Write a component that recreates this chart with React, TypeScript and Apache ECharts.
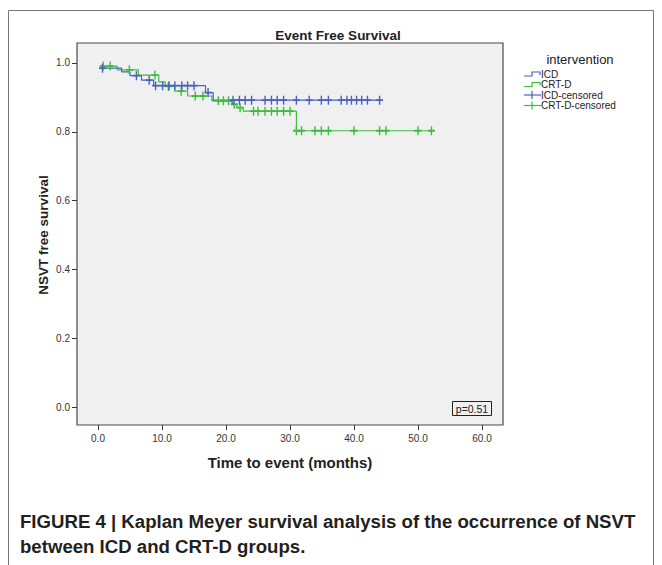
import React, { useEffect, useRef } from "react";
import * as echarts from "echarts";

// ---- data ----
const icdTimes = [0.5, 3.7, 5.0, 6.8, 8.7, 16.8, 18.0, 44.3];
const icdSurv = [0.985, 0.974, 0.963, 0.95, 0.934, 0.914, 0.892, 0.892];
const crtTimes = [0.5, 3.0, 6.3, 9.5, 10.5, 12.0, 14.0, 17.8, 20.9, 21.7, 22.7, 31.0, 52.3];
const crtSurv = [0.991, 0.98, 0.965, 0.945, 0.932, 0.918, 0.904, 0.89, 0.88, 0.87, 0.86, 0.803, 0.803];
const icdCensored = [0.7, 6.0, 8.0, 9.0, 10.1, 11.1, 12.0, 13.1, 14.0, 15.0, 17.2, 21.1, 22.1, 23.0, 24.0, 26.1, 27.1, 28.0, 29.0, 31.0, 33.0, 34.9, 36.0, 38.0, 38.9, 39.6, 40.4, 41.2, 42.1, 44.0];
const crtCensored = [0.8, 1.9, 4.9, 8.9, 11.0, 13.0, 15.2, 16.4, 18.8, 19.6, 20.4, 21.3, 22.2, 24.3, 25.0, 26.1, 27.1, 28.0, 29.0, 30.0, 31.0, 31.8, 33.9, 34.9, 36.0, 40.0, 44.0, 45.0, 50.0, 52.1];
const xTicks = [0, 10, 20, 30, 40, 50, 60];
const yTicks = [0, 0.2, 0.4, 0.6, 0.8, 1.0];
const legendLabels = ["ICD", "CRT-D", "ICD-censored", "CRT-D-censored"];
const pValueText = "p=0.51";

const BLUE = "#4a60c2";
const GREEN = "#3dbd3d";
const PLUS = "path://M4,0H6V4H10V6H6V10H4V6H0V4H4Z";
const FONT = "'Liberation Sans', Arial, sans-serif";

function levelAt(times: number[], surv: number[], t: number) {
  let v = surv[0];
  for (let i = 0; i < times.length; i++) if (times[i] <= t) v = surv[i];
  return v;
}

export default function App() {
  const ref = useRef<HTMLDivElement>(null);
  useEffect(() => {
    const chart = echarts.init(ref.current!, null, { renderer: "svg" });
    const legendY = [74, 84.5, 95, 105.5];
    const legendGraphics: any[] = [];
    legendLabels.forEach((lab, i) => {
      const y = legendY[i];
      const col = i % 2 === 0 ? BLUE : GREEN;
      if (i < 2) {
        legendGraphics.push({
          type: "polyline",
          shape: { points: [[524, y + 2], [532, y + 2], [532, y - 2], [540, y - 2], [540, y + 1]] },
          style: { stroke: col, lineWidth: 1.2, fill: null },
        });
      } else {
        legendGraphics.push({ type: "line", shape: { x1: 524, y1: y, x2: 541, y2: y }, style: { stroke: col, lineWidth: 1.2 } });
        legendGraphics.push({ type: "line", shape: { x1: 532, y1: y - 4, x2: 532, y2: y + 4 }, style: { stroke: col, lineWidth: 1.2 } });
      }
      legendGraphics.push({
        type: "text", x: 541, y, style: { text: lab, fill: "#222", font: `10px ${FONT}`, textVerticalAlign: "middle" },
      });
    });

    const captionFont = `bold 19px 'Liberation Sans Narrow', 'Arial Narrow', ${FONT}`;

    chart.setOption({
      animation: false,
      backgroundColor: "#ffffff",
      grid: {
        left: 77, top: 43, width: 426, height: 382, show: true,
        backgroundColor: "#f0f0f0", borderColor: "#4a4a4a", borderWidth: 1.2,
      },
      xAxis: {
        type: "value", min: -3.28, max: 63.28,
        splitLine: { show: false }, axisLine: { show: false, onZero: false },
        axisTick: { show: true, customValues: xTicks, length: 5, lineStyle: { color: "#333" } },
        axisLabel: {
          customValues: xTicks, formatter: (v: number) => v.toFixed(1),
          color: "#333", fontSize: 10, fontFamily: FONT, margin: 8,
        },
      },
      yAxis: {
        type: "value", min: -0.0523, max: 1.0581,
        splitLine: { show: false }, axisLine: { show: false, onZero: false },
        axisTick: { show: true, customValues: yTicks, length: 5, lineStyle: { color: "#333" } },
        axisLabel: {
          customValues: yTicks, formatter: (v: number) => v.toFixed(1),
          color: "#333", fontSize: 10, fontFamily: FONT, margin: 7,
        },
      },
      series: [
        {
          type: "line", step: "end", showSymbol: false, silent: true,
          data: icdTimes.map((t, i) => [t, icdSurv[i]]),
          lineStyle: { color: BLUE, width: 1.2 }, z: 3,
        },
        {
          type: "line", step: "end", showSymbol: false, silent: true,
          data: crtTimes.map((t, i) => [t, crtSurv[i]]),
          lineStyle: { color: GREEN, width: 1.2 }, z: 2,
        },
        {
          type: "scatter", symbol: PLUS, symbolSize: [7, 9], silent: true,
          data: icdCensored.map((t) => [t, levelAt(icdTimes, icdSurv, t)]),
          itemStyle: { color: BLUE, opacity: 1 }, z: 4,
        },
        {
          type: "scatter", symbol: PLUS, symbolSize: [7, 9], silent: true,
          data: crtCensored.map((t) => [t, levelAt(crtTimes, crtSurv, t)]),
          itemStyle: { color: GREEN, opacity: 1 }, z: 3,
        },
      ],
      graphic: [
        { type: "rect", shape: { x: 8.5, y: 10.5, width: 645, height: 570 }, style: { stroke: "#777", fill: null, lineWidth: 1 }, z: -1 },
        { type: "text", x: 338, y: 35, style: { text: "Event Free Survival", font: `bold 13.5px ${FONT}`, fill: "#222", textAlign: "center", textVerticalAlign: "middle" } },
        { type: "text", x: 580, y: 59, style: { text: "intervention", font: `13px ${FONT}`, fill: "#222", textAlign: "center", textVerticalAlign: "middle" } },
        ...legendGraphics,
        { type: "text", x: 43, y: 235, rotation: Math.PI / 2, style: { text: "NSVT free survival", font: `bold 13.5px ${FONT}`, fill: "#222", textAlign: "center", textVerticalAlign: "middle" } },
        { type: "text", x: 290, y: 462, style: { text: "Time to event (months)", font: `bold 15px ${FONT}`, fill: "#222", textAlign: "center", textVerticalAlign: "middle" } },
        { type: "rect", shape: { x: 452.5, y: 401.5, width: 39, height: 14 }, style: { stroke: "#222", fill: "#f0f0f0", lineWidth: 1 }, z: 10 },
        { type: "text", x: 472, y: 409, z: 11, style: { text: pValueText, font: `10.5px ${FONT}`, fill: "#222", textAlign: "center", textVerticalAlign: "middle" } },
        { type: "text", x: 20, y: 521, scaleX: 0.98, style: { text: "FIGURE 4 | Kaplan Meyer survival analysis of the occurrence of NSVT", font: captionFont, fill: "#231f20", textVerticalAlign: "middle" } },
        { type: "text", x: 20, y: 546, scaleX: 0.98, style: { text: "between ICD and CRT-D groups.", font: captionFont, fill: "#231f20", textVerticalAlign: "middle" } },
      ],
    });
    return () => chart.dispose();
  }, []);
  return <div ref={ref} style={{ position: "absolute", left: 0, top: 0, width: 662, height: 565, background: "#fff" }} />;
}
